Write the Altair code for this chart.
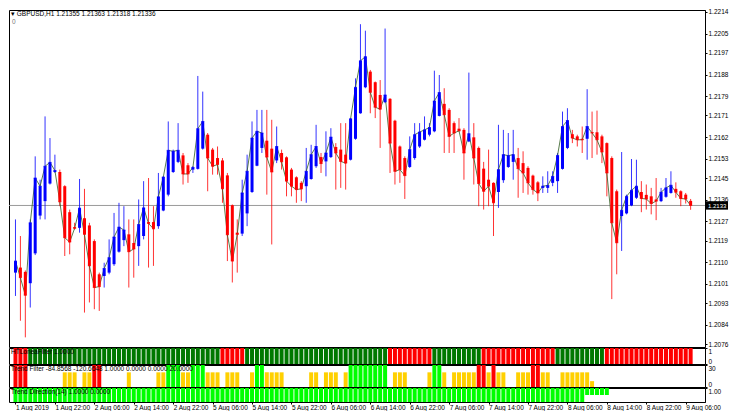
import json
import math
import altair as alt
import pandas as pd

# ---------------- data (GBPUSD H1, 1 Aug 14:00 -> 9 Aug 07:00) ----------------
opens = [1.21057, 1.21078, 1.21060, 1.21013, 1.21137, 1.21294, 1.21354, 1.21427, 1.21475, 1.21475,
         1.21416, 1.21308, 1.21246, 1.21243, 1.21283, 1.21253, 1.21188, 1.21050, 1.21043, 1.21057,
         1.21092, 1.21144, 1.21192, 1.21216, 1.21180, 1.21167, 1.21209, 1.21267, 1.21267, 1.21250,
         1.21315, 1.21381, 1.21475, 1.21517, 1.21544, 1.21503, 1.21485, 1.21488, 1.21572, 1.21630,
         1.21568, 1.21533, 1.21523, 1.21461, 1.21337, 1.21223, 1.21219, 1.21303, 1.21392, 1.21501,
         1.21575, 1.21605, 1.21572, 1.21523, 1.21554, 1.21536, 1.21485, 1.21453, 1.21430, 1.21416,
         1.21446, 1.21499, 1.21537, 1.21519, 1.21537, 1.21579, 1.21568, 1.21547, 1.21526, 1.21613,
         1.21719, 1.21827, 1.21892, 1.21848, 1.21795, 1.21765, 1.21779, 1.21688, 1.21581, 1.21533,
         1.21496, 1.21533, 1.21581, 1.21609, 1.21630, 1.21644, 1.21708, 1.21758, 1.21733, 1.21678,
         1.21655, 1.21650, 1.21602, 1.21619, 1.21575, 1.21489, 1.21443, 1.21430, 1.21392, 1.21441,
         1.21496, 1.21517, 1.21533, 1.21512, 1.21492, 1.21460, 1.21432, 1.21409, 1.21409, 1.21430,
         1.21437, 1.21488, 1.21575, 1.21632, 1.21623, 1.21613, 1.21613, 1.21640, 1.21640, 1.21623,
         1.21595, 1.21533, 1.21395, 1.21292, 1.21303, 1.21336, 1.21368, 1.21392, 1.21380, 1.21374,
         1.21361, 1.21354, 1.21372, 1.21388, 1.21405, 1.21395, 1.21381, 1.21355]
highs = [1.21278, 1.21209, 1.21066, 1.21278, 1.21540, 1.21443, 1.21706, 1.21616, 1.21547, 1.21485,
         1.21420, 1.21319, 1.21264, 1.21446, 1.21405, 1.21264, 1.21195, 1.21057, 1.21098, 1.21195,
         1.21305, 1.21347, 1.21333, 1.21278, 1.21278, 1.21361, 1.21437, 1.21450, 1.21333, 1.21471,
         1.21457, 1.21685, 1.21568, 1.21678, 1.21554, 1.21512, 1.21499, 1.21874, 1.21809, 1.21637,
         1.21575, 1.21581, 1.21533, 1.21471, 1.21340, 1.21278, 1.21443, 1.21547, 1.21685, 1.21733,
         1.21733, 1.21733, 1.21692, 1.21664, 1.21568, 1.21540, 1.21492, 1.21457, 1.21437, 1.21575,
         1.21588, 1.21671, 1.21554, 1.21644, 1.21657, 1.21595, 1.21678, 1.21678, 1.21699, 1.21864,
         1.22089, 1.22062, 1.21899, 1.21851, 1.21857, 1.22071, 1.21782, 1.21692, 1.21585, 1.21540,
         1.21623, 1.21678, 1.21678, 1.21706, 1.21678, 1.21896, 1.21878, 1.21823, 1.21740, 1.21685,
         1.21699, 1.21657, 1.21888, 1.21678, 1.21581, 1.21517, 1.21568, 1.21432, 1.21671, 1.21650,
         1.21637, 1.21650, 1.21575, 1.21561, 1.21499, 1.21464, 1.21437, 1.21457, 1.21478, 1.21478,
         1.21554, 1.21726, 1.21740, 1.21650, 1.21630, 1.21664, 1.21819, 1.21726, 1.21730, 1.21630,
         1.21598, 1.21540, 1.21402, 1.21558, 1.21381, 1.21529, 1.21526, 1.21437, 1.21423, 1.21409,
         1.21450, 1.21409, 1.21450, 1.21478, 1.21432, 1.21399, 1.21388, 1.21363]
lows = [1.20960, 1.20857, 1.20788, 1.20912, 1.21130, 1.21278, 1.21278, 1.21423, 1.21471, 1.21333,
        1.21126, 1.21133, 1.21236, 1.21223, 1.20891, 1.20933, 1.20905, 1.20898, 1.20995, 1.21050,
        1.21085, 1.21140, 1.21167, 1.20995, 1.21036, 1.21085, 1.21195, 1.21078, 1.21085, 1.21239,
        1.21312, 1.21374, 1.21471, 1.21512, 1.21423, 1.21430, 1.21471, 1.21485, 1.21568, 1.21395,
        1.21464, 1.21464, 1.21347, 1.21105, 1.21016, 1.21057, 1.21209, 1.21250, 1.21388, 1.21499,
        1.21554, 1.21381, 1.21174, 1.21512, 1.21485, 1.21374, 1.21374, 1.21347, 1.21354, 1.21347,
        1.21443, 1.21492, 1.21471, 1.21457, 1.21533, 1.21402, 1.21409, 1.21402, 1.21523, 1.21609,
        1.21717, 1.21823, 1.21719, 1.21699, 1.21575, 1.21761, 1.21471, 1.21423, 1.21430, 1.21363,
        1.21492, 1.21526, 1.21575, 1.21606, 1.21623, 1.21640, 1.21706, 1.21554, 1.21554, 1.21554,
        1.21644, 1.21443, 1.21599, 1.21423, 1.21333, 1.21319, 1.21333, 1.21209, 1.21326, 1.21430,
        1.21492, 1.21443, 1.21368, 1.21388, 1.21381, 1.21381, 1.21354, 1.21388, 1.21388, 1.21416,
        1.21388, 1.21485, 1.21570, 1.21595, 1.21581, 1.21554, 1.21526, 1.21533, 1.21547, 1.21512,
        1.21374, 1.20947, 1.21050, 1.21147, 1.21299, 1.21333, 1.21363, 1.21308, 1.21319, 1.21299,
        1.21275, 1.21350, 1.21368, 1.21385, 1.21368, 1.21333, 1.21344, 1.21318]
closes = [1.21105, 1.21036, 1.20963, 1.21264, 1.21450, 1.21416, 1.21499, 1.21515, 1.21481, 1.21351,
          1.21202, 1.21184, 1.21241, 1.21325, 1.21216, 1.21085, 1.20995, 1.20999, 1.21074, 1.21119,
          1.21205, 1.21246, 1.21234, 1.21144, 1.21155, 1.21257, 1.21326, 1.21261, 1.21239, 1.21372,
          1.21454, 1.21565, 1.21561, 1.21565, 1.21467, 1.21467, 1.21494, 1.21655, 1.21685, 1.21533,
          1.21499, 1.21506, 1.21405, 1.21214, 1.21105, 1.21216, 1.21388, 1.21478, 1.21616, 1.21644,
          1.21637, 1.21537, 1.21475, 1.21581, 1.21517, 1.21437, 1.21416, 1.21402, 1.21405, 1.21478,
          1.21547, 1.21581, 1.21510, 1.21554, 1.21620, 1.21554, 1.21519, 1.21512, 1.21696, 1.21827,
          1.21937, 1.21954, 1.21806, 1.21744, 1.21736, 1.21795, 1.21595, 1.21478, 1.21485, 1.21460,
          1.21568, 1.21630, 1.21641, 1.21650, 1.21660, 1.21770, 1.21805, 1.21713, 1.21623, 1.21637,
          1.21646, 1.21554, 1.21634, 1.21533, 1.21427, 1.21395, 1.21416, 1.21347, 1.21485, 1.21547,
          1.21543, 1.21547, 1.21489, 1.21471, 1.21430, 1.21402, 1.21388, 1.21416, 1.21419, 1.21457,
          1.21544, 1.21664, 1.21689, 1.21616, 1.21609, 1.21609, 1.21664, 1.21637, 1.21609, 1.21558,
          1.21471, 1.21264, 1.21181, 1.21316, 1.21374, 1.21399, 1.21416, 1.21365, 1.21363, 1.21344,
          1.21354, 1.21391, 1.21409, 1.21420, 1.21391, 1.21365, 1.21363, 1.21336]

price_ticks = [1.2214, 1.2205, 1.2197, 1.2188, 1.2179, 1.2171, 1.2162, 1.2153, 1.2145, 1.2136,
               1.2127, 1.2119, 1.2110, 1.2101, 1.2093, 1.2084, 1.2076]
time_labels = ["1 Aug 2019", "1 Aug 22:00", "2 Aug 06:00", "2 Aug 14:00", "2 Aug 22:00",
               "5 Aug 06:00", "5 Aug 14:00", "5 Aug 22:00", "6 Aug 06:00", "6 Aug 14:00",
               "6 Aug 22:00", "7 Aug 06:00", "7 Aug 14:00", "7 Aug 22:00", "8 Aug 06:00",
               "8 Aug 14:00", "8 Aug 22:00", "9 Aug 06:00"]
time_label_step = 8

# indicator 1 (filter state, run lengths)
filt_runs = [("r", 3), ("g", 39), ("r", 5), ("g", 29), ("r", 9), ("g", 10), ("r", 15), ("g", 10), ("r", 18)]
# indicator 2 (Trend Filter)
tf_red = [0, 1, 2, 16, 17, 94, 95, 97, 105, 106]
tf_green = [31, 32, 33, 36, 37, 38, 49, 50, 68, 69, 70, 71, 72, 73, 74, 75, 85, 86]
tf_yellow = [10, 11, 12, 14, 15, 23, 29, 30, 34, 35, 39, 40, 41, 43, 44, 45, 48, 51, 52, 53, 54,
             60, 61, 63, 64, 65, 67, 77, 78, 79, 84, 87, 89, 90, 91, 92, 93, 96, 98, 99, 102, 103,
             104, 107, 108, 111, 112, 113, 114, 115, 116]
tf_yellow_short = [117]
tf_full_value, tf_yellow_value, tf_short_value = 30, 20, 8
# indicator 3 (Trend Direction)
td_full_last = 115
td_partial = [116, 117, 118, 119, 120]

header_title = "GBPUSD,H1"
filter_title = "HTLoneaFilter 1.0000"
tf_title = "Trend Filter -84.8568 -120.6648 1.0000 0.0000 0.0000 20.0000"
td_title = "Trend Direction(14) 1.0000 0.0000"

# ---------------- layout ----------------
W = 696
FONT = "Liberation Sans"
FS = 6.5
n = len(closes)
UP, DOWN = "#0000ff", "#ff0000"

df = pd.DataFrame({"k": list(range(n)), "o": opens, "h": highs, "l": lows, "c": closes})
df["col"] = [UP if c >= o else DOWN for o, c in zip(opens, closes)]

xs = alt.Scale(domain=[-0.3, 138.9], nice=False, zero=False)
ys = alt.Scale(domain=[1.20748, 1.22148], nice=False, zero=False)
X = alt.X("k:Q", scale=xs, axis=None)
COL = alt.Color("col:N", scale=None, legend=None)

price_axis = alt.Axis(orient="right", values=price_ticks, format=".4f", title=None, grid=False,
                      labelFontSize=FS, labelFont=FONT, labelColor="#000", tickSize=2, labelPadding=1,
                      tickColor="#000", domainColor="#000", labelOverlap=False, labelBound=False)


def PY(field):
    return alt.Y(field, scale=ys, axis=price_axis, title=None)


last = closes[-1]
pl = pd.DataFrame({"p": [last], "t": [f"{math.floor(last * 1e4) / 1e4:.4f}"]})

hline = alt.Chart(pl).mark_rule(color="#9a9a9a", strokeWidth=1).encode(y=PY("p:Q"))
wicks = alt.Chart(df).mark_rule(strokeWidth=1, opacity=0.8).encode(x=X, y=PY("l:Q"), y2="h:Q", color=COL)
bodies = alt.Chart(df).mark_bar(size=3).encode(x=X, y=PY("o:Q"), y2="c:Q", color=COL)
doji = alt.Chart(df).mark_tick(orient="horizontal", size=3, thickness=1).encode(x=X, y=PY("c:Q"), color=COL)
line = alt.Chart(df).mark_line(color="#2d5a1e", strokeWidth=0.8).encode(x=X, y=PY("c:Q"))

hdr = pd.DataFrame({"t": [f"\u25be {header_title}  {opens[-1]:.5f} {highs[-1]:.5f} {lows[-1]:.5f} {closes[-1]:.5f}"]})
header = alt.Chart(hdr).mark_text(align="left", baseline="top", font=FONT, fontSize=FS, color="#000").encode(
    x=alt.value(2), y=alt.value(1), text="t:N")
zero = alt.Chart(pd.DataFrame({"t": ["0"]})).mark_text(align="left", baseline="top", font=FONT,
                                                          fontSize=FS, color="#777").encode(
    x=alt.value(3), y=alt.value(9), text="t:N")

box = alt.Chart(pl).mark_point(shape="M-1,-0.38L1,-0.38L1,0.38L-1,0.38Z", size=484, filled=True,
                               color="#000", opacity=1).encode(x=alt.value(W + 12), y=PY("p:Q"))
box_t = alt.Chart(pl).mark_text(align="left", baseline="middle", dy=1, font=FONT, fontSize=6,
                                color="#fff").encode(x=alt.value(W + 3), y=PY("p:Q"), text="t:N")

main = alt.layer(hline, wicks, line, bodies, doji, header, zero, box, box_t).properties(width=W, height=337)


def side_axis(vals, fmt):
    return alt.Axis(orient="right", values=vals, format=fmt, title=None, grid=False, labelFontSize=FS,
                    labelFont=FONT, labelColor="#000", tickSize=2, labelPadding=1, tickColor="#000",
                    domainColor="#000", labelFlush=True, labelOverlap=False)


def title_layer(txt):
    return alt.Chart(pd.DataFrame({"t": [txt]})).mark_text(
        align="left", baseline="top", font=FONT, fontSize=FS, color="#000").encode(
        x=alt.value(2), y=alt.value(1), text="t:N")


# indicator 1
f_colors = {"g": "#007800", "r": "#ff0000"}
f_state = [s for s, cnt in filt_runs for _ in range(cnt)]
d1 = pd.DataFrame({"k": list(range(len(f_state))), "v": [1] * len(f_state),
                   "col": [f_colors[s] for s in f_state]})
p1 = alt.layer(
    alt.Chart(d1).mark_bar(size=4).encode(
        x=X, y=alt.Y("v:Q", scale=alt.Scale(domain=[0, 1], nice=False), axis=side_axis([0, 1], "d")),
        color=COL),
    title_layer(filter_title),
).properties(width=W, height=16)

# indicator 2
tf_colors = {"r": "#ff0000", "g": "#00ff00", "y": "#ffd000"}
rows = ([(k, "r", tf_full_value) for k in tf_red] + [(k, "g", tf_full_value) for k in tf_green]
        + [(k, "y", tf_yellow_value) for k in tf_yellow] + [(k, "y", tf_short_value) for k in tf_yellow_short])
d2 = pd.DataFrame(rows, columns=["k", "s", "v"])
d2["col"] = [tf_colors[s] for s in d2["s"]]
p2 = alt.layer(
    alt.Chart(d2).mark_bar(size=4).encode(
        x=X, y=alt.Y("v:Q", scale=alt.Scale(domain=[0, 30], nice=False), axis=side_axis([0, 30], "d")),
        color=COL),
    title_layer(tf_title),
).properties(width=W, height=22)

# indicator 3
rows3 = [(k, 0.0, 1.0) for k in range(td_full_last + 1)] + [(k, 0.5, 1.0) for k in td_partial]
d3 = pd.DataFrame(rows3, columns=["k", "lo", "hi"])
time_axis = alt.Axis(orient="bottom", values=[i * time_label_step for i in range(len(time_labels))],
                     labelExpr=f"{json.dumps(time_labels)}[round(datum.value/{time_label_step})]",
                     labelAlign="left", labelFontSize=FS, labelFont=FONT, labelColor="#000", tickSize=2,
                     labelPadding=0, tickColor="#000", domain=False, grid=False, title=None,
                     labelFlush=False, labelOverlap=False, labelBound=False)
p3 = alt.layer(
    alt.Chart(d3).mark_bar(size=4, color="#00ff00").encode(
        x=alt.X("k:Q", scale=xs, axis=time_axis),
        y=alt.Y("lo:Q", scale=alt.Scale(domain=[0, 1], nice=False), axis=side_axis([1], ".2f")),
        y2="hi:Q"),
    title_layer(td_title),
).properties(width=W, height=14)

chart = alt.vconcat(main, p1, p2, p3, spacing=1, bounds="flush").properties(padding=0).configure_view(
    stroke="#000", strokeWidth=1)

chart.save("out.html", embed_options={"renderer": "svg", "actions": False})
